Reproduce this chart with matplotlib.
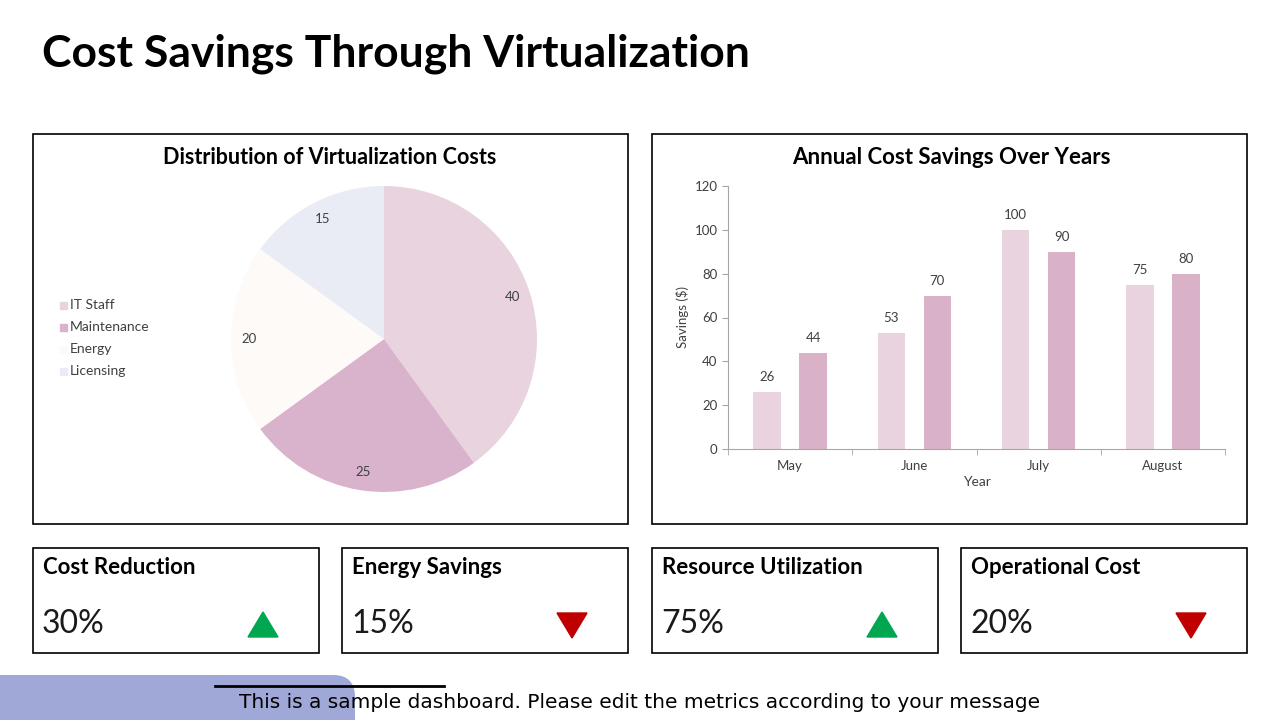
import matplotlib
matplotlib.use("Agg")
import matplotlib.pyplot as plt
import numpy as np
from matplotlib.patches import Rectangle, FancyBboxPatch, Polygon
from matplotlib.lines import Line2D

plt.rcParams['font.family'] = ['Lato', 'DejaVu Sans']

# Данные круговой диаграммы
pie_labels = ['IT Staff', 'Maintenance', 'Energy', 'Licensing']
pie_values = [40, 25, 20, 15]
pie_colors = ['#E8D3DF', '#D9B3CB', '#FDFAF8', '#E9ECF4']

# Данные столбчатой диаграммы
months = ['May', 'June', 'July', 'August']
series_a = [26, 53, 100, 75]
series_b = [44, 70, 90, 80]
bar_colors = ['#E8D3DF', '#D9B2C8']

# KPI-карточки
kpi_titles = ['Cost Reduction', 'Energy Savings', 'Resource Utilization', 'Operational Cost']
kpi_values = ['30%', '15%', '75%', '20%']
kpi_up = [True, False, True, False]

W, H = 1280, 720
fig = plt.figure(figsize=(12.8, 7.2), dpi=100)


def px_axes(x0, y0, x1, y1, **kw):
    # прямоугольник в пикселях (сверху вниз) -> доли фигуры
    return fig.add_axes([x0 / W, 1 - y1 / H, (x1 - x0) / W, (y1 - y0) / H], **kw)


# Фоновый слой для рамок и текста
bg = fig.add_axes([0, 0, 1, 1])
bg.set_xlim(0, W)
bg.set_ylim(H, 0)
bg.axis('off')

bg.text(42, 54, 'Cost Savings Through Virtualization', fontsize=32,
        fontweight='bold', va='center', ha='left', color='black')

for x0, x1 in [(33, 628), (652, 1247)]:
    bg.add_patch(Rectangle((x0, 134), x1 - x0, 390, fill=False,
                           edgecolor='black', linewidth=1.2))

bg.text(330, 157, 'Distribution of Virtualization Costs', fontsize=15.5,
        fontweight='bold', ha='center', va='center')
bg.text(951, 157, 'Annual Cost Savings Over Years', fontsize=16,
        fontweight='bold', ha='center', va='center')

# Круговая диаграмма
ax_pie = px_axes(231, 186, 537, 492)
wedges, _ = ax_pie.pie(pie_values, colors=pie_colors, startangle=90,
                       counterclock=False, radius=1)
for w, v in zip(wedges, pie_values):
    ang = np.deg2rad((w.theta1 + w.theta2) / 2)
    ax_pie.text(0.88 * np.cos(ang), 0.88 * np.sin(ang), str(v),
                ha='center', va='center', fontsize=9.5, color='#404040')
ax_pie.set_xlim(-1, 1)
ax_pie.set_ylim(-1, 1)
ax_pie.set_aspect('equal')

# Легенда
for i, (lab, c) in enumerate(zip(pie_labels, pie_colors)):
    y = 305 + i * 22
    bg.add_patch(Rectangle((60, y - 3.5), 7, 7, color=c))
    bg.text(70, y, lab, fontsize=10, va='center', ha='left', color='#404040')

# Столбчатая диаграмма
ax_bar = px_axes(728, 186, 1225, 449)
x = np.arange(len(months))
ax_bar.bar(x - 0.185, series_a, width=0.22, color=bar_colors[0])
ax_bar.bar(x + 0.185, series_b, width=0.22, color=bar_colors[1])
for xi, a, b in zip(x, series_a, series_b):
    ax_bar.text(xi - 0.185, a + 4, str(a), ha='center', va='bottom',
                fontsize=9.5, color='#404040')
    ax_bar.text(xi + 0.185, b + 4, str(b), ha='center', va='bottom',
                fontsize=9.5, color='#404040')
ax_bar.set_xlim(-0.5, len(months) - 0.5)
ax_bar.set_ylim(0, 120)
ax_bar.set_yticks(range(0, 121, 20))
ax_bar.set_xticks(x)
ax_bar.set_xticklabels(months)
ax_bar.set_xticks(np.arange(-0.5, len(months)), minor=True)
ax_bar.tick_params(axis='x', which='major', length=0, pad=8)
ax_bar.tick_params(axis='x', which='minor', length=4, color='#A6A6A6')
ax_bar.tick_params(axis='y', length=4, color='#A6A6A6')
ax_bar.tick_params(labelsize=9.5, labelcolor='#404040')
for s in ['top', 'right']:
    ax_bar.spines[s].set_visible(False)
for s in ['left', 'bottom']:
    ax_bar.spines[s].set_color('#A6A6A6')
ax_bar.set_ylabel('Savings ($)', fontsize=9.5, color='#404040')
ax_bar.set_xlabel('Year', fontsize=10, color='#404040', labelpad=3)
ax_bar.patch.set_alpha(0)

# KPI-карточки
card_x = [33, 342, 652, 961]
for cx, t, v, up in zip(card_x, kpi_titles, kpi_values, kpi_up):
    bg.add_patch(Rectangle((cx, 548), 286, 105, fill=False,
                           edgecolor='black', linewidth=1.2))
    bg.text(cx + 10, 568, t, fontsize=16, fontweight='bold', va='center')
    bg.text(cx + 9, 624, v, fontsize=23, va='center', color='#1a1a1a')
    tx, ty = cx + 230, 625
    if up:
        pts = [(tx - 15, ty + 12), (tx + 15, ty + 12), (tx, ty - 13)]
        col = '#00A650'
    else:
        pts = [(tx - 15, ty - 12), (tx + 15, ty - 12), (tx, ty + 13)]
        col = '#C00000'
    bg.add_patch(Polygon(pts, closed=True, color=col))

# Нижняя полоса
bg.add_patch(FancyBboxPatch((-40, 675), 395, 70,
                            boxstyle='round,pad=0,rounding_size=22',
                            color='#9FA8D6', linewidth=0))
bg.add_line(Line2D([215, 444], [686, 686], color='black', linewidth=2))
bg.text(640, 702, 'This is a sample dashboard. Please edit the metrics according to your message',
        fontsize=14.5, ha='center', va='center', color='black',
        family=['DejaVu Sans'])

fig.savefig('out.png', dpi=100)
